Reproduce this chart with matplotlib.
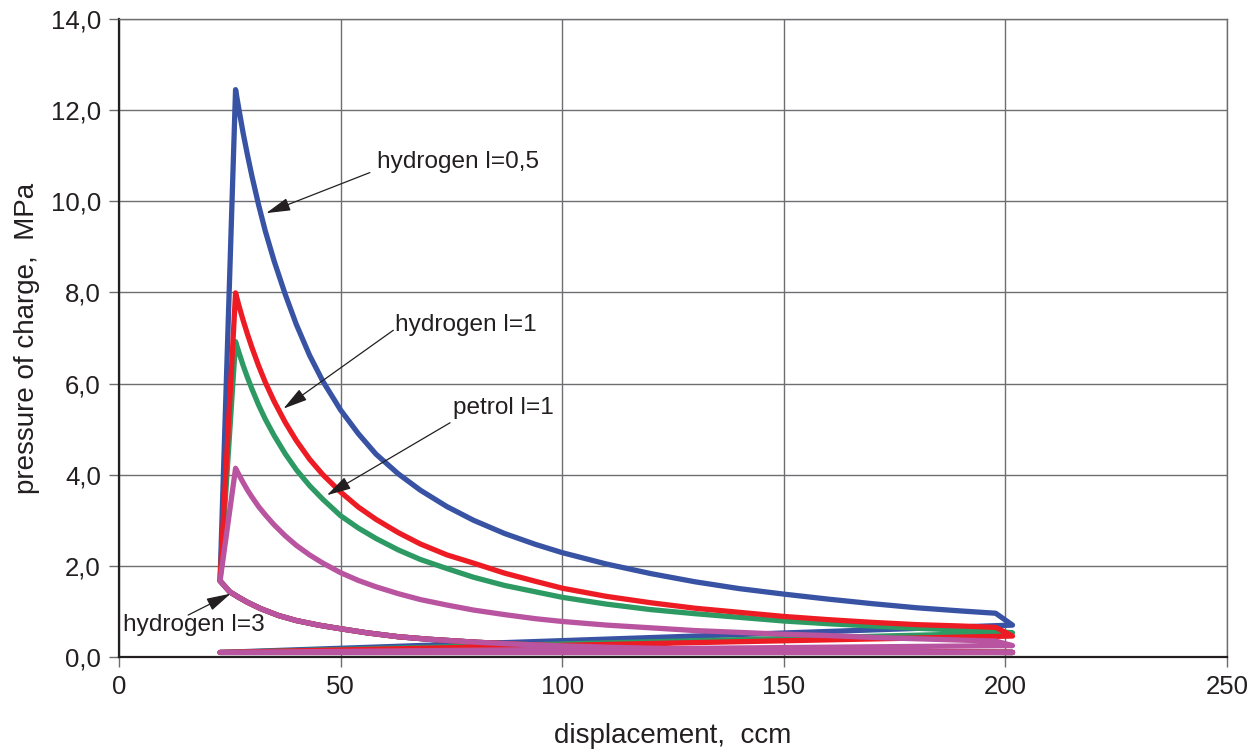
import matplotlib
matplotlib.use("Agg")
import matplotlib.pyplot as plt

plt.rcParams['font.family'] = ['Liberation Sans', 'DejaVu Sans']

# shared compression line (BDC -> TDC)
comp_V = [201.6, 190, 180, 170, 160, 150, 140, 130, 120, 110, 100, 90, 80, 70, 63, 56, 50, 45, 40, 36, 32, 29, 27, 25, 22.8]
comp_p = [0.10, 0.106, 0.114, 0.123, 0.133, 0.144, 0.158, 0.174, 0.193, 0.216, 0.244, 0.28, 0.327, 0.389,
          0.445, 0.53, 0.62, 0.70, 0.80, 0.91, 1.06, 1.20, 1.31, 1.43, 1.67]

# expansion lines
exp_V = [26.3, 27, 28, 29, 30, 31.5, 33, 35, 37.5, 40, 43, 46, 50, 54, 58, 63, 68, 74, 80, 87, 94,
         100, 110, 120, 130, 140, 150, 160, 170, 180, 190, 197.8]
blue_p = [12.45, 12.05, 11.5, 11.01, 10.55, 9.92, 9.35, 8.69, 7.96, 7.3, 6.62, 6.05, 5.42, 4.9, 4.45,
          4.02, 3.66, 3.30, 3.0, 2.71, 2.47, 2.29, 2.04, 1.83, 1.65, 1.50, 1.38, 1.27, 1.17, 1.08, 1.01, 0.96]
red_p = [7.99, 7.73, 7.39, 7.08, 6.79, 6.39, 6.03, 5.61, 5.15, 4.75, 4.34, 4.0, 3.62, 3.29, 3.02,
         2.73, 2.48, 2.24, 2.06, 1.84, 1.66, 1.51, 1.33, 1.19, 1.07, 0.98, 0.89, 0.82, 0.76, 0.71, 0.68, 0.65]
green_p = [6.92, 6.70, 6.40, 6.13, 5.88, 5.53, 5.22, 4.86, 4.46, 4.11, 3.76, 3.46, 3.10, 2.83, 2.60,
           2.35, 2.14, 1.94, 1.75, 1.57, 1.43, 1.31, 1.16, 1.04, 0.95, 0.87, 0.79, 0.73, 0.68, 0.63, 0.59, 0.565]
pink_p = [4.14, 4.01, 3.83, 3.66, 3.51, 3.30, 3.12, 2.90, 2.66, 2.45, 2.24, 2.06, 1.85, 1.68, 1.54,
          1.39, 1.26, 1.14, 1.03, 0.93, 0.84, 0.78, 0.70, 0.64, 0.58, 0.54, 0.50, 0.47, 0.43, 0.40, 0.37, 0.35]

# end of blow-down at V = 201.6
V_end = 201.6
V_tdc = 22.8
p_low = 0.10
blow_p = {'blue': 0.70, 'green': 0.53, 'red': 0.46, 'pink': 0.25}

colors = {'blue': '#3953a4', 'green': '#2e9a63', 'red': '#ed1c24', 'pink': '#b954a0'}

series = [
    ('blue', blue_p),
    ('green', green_p),
    ('red', red_p),
    ('pink', pink_p),
]

labels = ['hydrogen l=0,5', 'hydrogen l=1', 'petrol l=1', 'hydrogen l=3']
label_pos = [(58.2, 10.86), (62.3, 7.29), (75.4, 5.46), (1.0, 0.70)]
arrow_tail = [(56.6, 10.63), (61.9, 7.17), (74.7, 5.14), (15.6, 0.92)]
arrow_tip = [(33.2, 9.74), (37.1, 5.45), (46.9, 3.55), (25.2, 1.39)]

fig = plt.figure(figsize=(12.58, 7.52), dpi=100)
ax = fig.add_axes([119 / 1258, 1 - 657 / 752, (1227 - 119) / 1258, (657 - 19) / 752])

for name, p in series:
    xs = comp_V + exp_V + [V_end, V_tdc, V_end]
    ys = comp_p + p + [blow_p[name], p_low, p_low]
    ax.plot(xs, ys, color=colors[name], lw=3.8, solid_joinstyle='round',
            solid_capstyle='round', zorder=3)

for lab, pos, tail, tip in zip(labels, label_pos, arrow_tail, arrow_tip):
    ax.text(pos[0], pos[1], lab, fontsize=17.6, color='#231f20', ha='left', va='center', zorder=5)
    ax.annotate('', xy=tip, xytext=tail,
                arrowprops=dict(arrowstyle='-|>,head_length=0.75,head_width=0.2',
                                mutation_scale=20, color='#231f20', lw=0.9,
                                shrinkA=0, shrinkB=0),
                zorder=5)

ax.set_xlim(0, 250)
ax.set_ylim(0, 14)
ax.set_xticks(range(0, 251, 50))
ax.set_yticks(range(0, 15, 2))
ax.set_yticklabels(['%d,0' % v for v in range(0, 15, 2)])
ax.grid(True, color='#6d6e71', lw=1.0)
ax.set_axisbelow(True)
for s in ['top', 'right']:
    ax.spines[s].set_color('#6d6e71')
    ax.spines[s].set_linewidth(1.0)
for s in ['left', 'bottom']:
    ax.spines[s].set_color('#231f20')
    ax.spines[s].set_linewidth(1.6)
ax.tick_params(direction='out', length=7, width=1.0, color='#6d6e71',
               labelsize=18.5, labelcolor='#231f20', pad=6)

ax.set_xlabel('displacement,  ccm', fontsize=20, color='#231f20', labelpad=17)
ax.set_ylabel('pressure of charge,  MPa', fontsize=20, color='#231f20', labelpad=8)

fig.savefig('out.png', dpi=100)
